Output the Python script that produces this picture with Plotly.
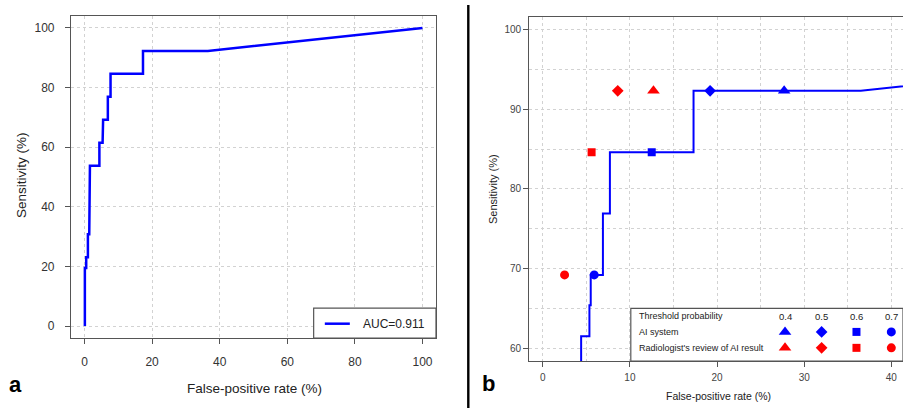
import plotly.graph_objects as go

# ROC curve (false-positive rate %, sensitivity %)
roc_fpr = [0.1, 0.1, 0.5, 0.5, 1.0, 1.0, 1.4, 1.4, 1.6, 1.6, 4.4, 4.4, 5.35, 5.35, 5.5, 5.5,
           6.9, 6.9, 7.7, 7.7, 17.3, 17.3, 36.5, 100]
roc_sens = [0, 19.5, 19.5, 23.1, 23.1, 30.8, 30.8, 46.2, 46.2, 53.8, 53.8, 61.5, 61.5, 65.4, 65.4, 69.2,
            69.2, 76.9, 76.9, 84.6, 84.6, 92.3, 92.3, 100]

thresholds = ["0.4", "0.5", "0.6", "0.7"]
symbols = ["triangle-up", "diamond", "square", "circle"]
sizes = [11, 9, 8, 9]
ai_fpr = [27.7, 19.2, 12.5, 5.9]
ai_sens = [92.3, 92.3, 84.6, 69.2]
rad_fpr = [12.7, 8.6, 5.6, 2.5]
rad_sens = [92.3, 92.3, 84.6, 69.2]

auc_label = "AUC=0.911"

BLUE = "#0000ff"
RED = "#ff0000"
W, H = 903, 408
FONT = "Liberation Sans, Arial, sans-serif"


def px(x):
    return x / W


def py(y):
    return 1 - y / H


def mk(color):
    return dict(color=color, symbol=symbols, size=sizes, opacity=1, line=dict(width=0))


fig = go.Figure()

# Panel a
fig.add_trace(go.Scatter(x=roc_fpr, y=roc_sens, mode="lines", line=dict(color=BLUE, width=2.5),
                         xaxis="x", yaxis="y", showlegend=False))
# Panel b curve
fig.add_trace(go.Scatter(x=roc_fpr, y=roc_sens, mode="lines", line=dict(color=BLUE, width=2),
                         xaxis="x2", yaxis="y2", showlegend=False))
# Panel b points
fig.add_trace(go.Scatter(x=ai_fpr, y=ai_sens, mode="markers", xaxis="x2", yaxis="y2",
                         marker=mk(BLUE), showlegend=False))
fig.add_trace(go.Scatter(x=rad_fpr, y=rad_sens, mode="markers", xaxis="x2", yaxis="y2",
                         marker=mk(RED), showlegend=False))

# Panel b legend glyphs (layout positions in panel b axis units)
leg_x = [27.8, 32.0, 36.0, 40.0]
fig.add_trace(go.Scatter(x=leg_x, y=[62.05] * 4, mode="markers", xaxis="x2", yaxis="y2",
                         marker=mk(BLUE), showlegend=False, cliponaxis=False, hoverinfo="skip"))
fig.add_trace(go.Scatter(x=leg_x, y=[60.05] * 4, mode="markers", xaxis="x2", yaxis="y2",
                         marker=mk(RED), showlegend=False, cliponaxis=False, hoverinfo="skip"))

GRIDC = "#d2d2d2"
grid = dict(showgrid=True, gridcolor=GRIDC, griddash="dot", gridwidth=1, zeroline=False,
            showline=True, linecolor="#555555", linewidth=1.2, ticks="outside",
            tickcolor="#555555", ticklen=5)

fig.update_layout(
    width=W, height=H, margin=dict(l=0, r=0, t=0, b=0),
    paper_bgcolor="white", plot_bgcolor="white",
    font=dict(family=FONT, color="#222222"),
    xaxis=dict(domain=[px(71), px(436)], range=[-4, 104], tickvals=[0, 20, 40, 60, 80, 100],
               mirror=True, anchor="y", tickfont=dict(size=12, color="#333333"),
               ticklabelstandoff=7, **grid),
    yaxis=dict(domain=[py(338), py(16)], range=[-4, 104], tickvals=[0, 20, 40, 60, 80, 100],
               mirror=True, anchor="x", tickfont=dict(size=12, color="#333333"),
               ticklabelstandoff=8, **grid),
    xaxis2=dict(domain=[px(529.3), 1.0], range=[-1.55, 41.34], tickvals=[0, 10, 20, 30, 40],
                mirror=True, anchor="y2", tickfont=dict(size=10, color="#444444"),
                ticklabelstandoff=2,
                minor=dict(dtick=5, tick0=0, showgrid=True, gridcolor=GRIDC, griddash="dot",
                           ticks=""), **grid),
    yaxis2=dict(domain=[py(361), py(16.7)], range=[58.4, 101.6], tickvals=[60, 70, 80, 90, 100],
                mirror=False, anchor="x2", tickfont=dict(size=10, color="#444444"),
                minor=dict(dtick=5, tick0=0, showgrid=True, gridcolor=GRIDC, griddash="dot",
                           ticks=""), **grid),
)

shapes = [
    # panel a legend box
    dict(type="rect", xref="x", yref="y", x0=67.8, x1=104, y0=-4, y1=6.0, layer="between",
         fillcolor="white", line=dict(color="#555555", width=1.2)),
    dict(type="line", xref="x", yref="y", x0=71.1, x1=78.5, y0=0.8, y1=0.8, layer="between",
         line=dict(color=BLUE, width=2.5)),
    # panel b legend box
    dict(type="rect", xref="x2", yref="y2", x0=10.1, x1=41.34, y0=58.4, y1=65.0, layer="between",
         fillcolor="white", line=dict(color="#555555", width=1.2)),
    # separator line
    dict(type="line", xref="paper", yref="paper", x0=px(468.3), x1=px(468.3), y0=0, y1=py(5),
         line=dict(color="black", width=2.4)),
]
fig.update_layout(shapes=shapes)

ann = []


def text(x, y, s, size, xanchor="center", yanchor="middle", color="#222222", angle=0, bold=False):
    ann.append(dict(x=px(x), y=py(y), xref="paper", yref="paper", text=("<b>%s</b>" % s) if bold else s,
                    showarrow=False, xanchor=xanchor, yanchor=yanchor, textangle=angle,
                    font=dict(size=size, color=color, family=FONT)))


# panel a texts
text(254, 388, "False-positive rate (%)", 13.5)
text(21, 175, "Sensitivity (%)", 13.5, angle=-90)
text(361, 324, auc_label, 12, xanchor="left")
text(15, 384, "a", 22, bold=True, color="black")
# panel b texts
text(718, 396, "False-positive rate (%)", 10.5)
text(493, 189, "Sensitivity (%)", 11, angle=-90)
text(488, 383, "b", 22, bold=True, color="black")
text(637, 316, "Threshold probability", 9, xanchor="left")
text(637, 332, "AI system", 9, xanchor="left")
text(637, 348, "Radiologist's review of AI result", 9, xanchor="left")
for tx, lab in zip([785, 821.7, 856.7, 891.7], thresholds):
    text(tx, 316, lab, 9.5)

fig.update_layout(annotations=ann)

fig.write_html("out.html", config={"displayModeBar": False},
               post_script="document.body.style.margin='0';document.body.style.overflow='hidden';")
